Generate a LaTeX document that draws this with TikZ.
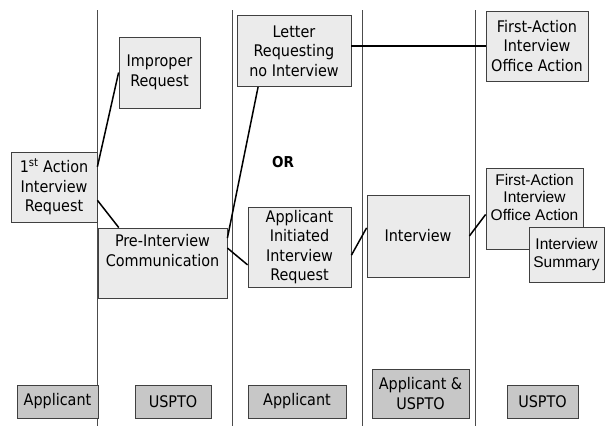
\documentclass[tikz,border=0pt]{standalone}
\usepackage{fontspec}
\setmainfont{DejaVu Sans Condensed}
\newfontfamily\arialfont{Liberation Sans}
\usepackage{tikz}

\begin{document}
\begin{tikzpicture}[x=1pt, y=-1pt,
  box/.style={draw=black!75, line width=0.8pt, fill=black!8, align=center, inner sep=1pt,
    font=\fontsize{16}{19.5}\selectfont},
  arialbox/.style={box, font=\arialfont\fontsize{15.5}{17.5}\selectfont},
  whobox/.style={box, fill=black!22, minimum height=33pt},
  link/.style={line width=1.5pt, black},
  lane/.style={line width=0.8pt, black!70}]
\useasboundingbox (0, 0) rectangle (605, 426);
\foreach \x in {97.5, 232, 362, 475}{\draw [lane] (\x, 10) -- (\x, 426);}
\node [box, minimum width=86pt, minimum height=70pt] (req) at (54, 187) {1\textsuperscript{st} Action\\Interview\\Request};
\node [box, minimum width=81pt, minimum height=71pt] (improper) at (159.5, 72.5) {Improper\\Request};
\node [box, minimum width=114pt, minimum height=71pt] (letter) at (294, 51) {Letter\\Requesting\\no Interview};
\node [box, minimum width=102pt, minimum height=70pt] (faioaA) at (537, 46) {First-Action\\Interview\\Office Action};
\node [box, minimum width=129pt, minimum height=70pt] (pre) at (162.5, 263) {Pre-Interview\\Communication\\\strut};
\node [box, minimum width=103pt, minimum height=80pt] (appinit) at (299.5, 247) {Applicant\\Initiated\\Interview\\Request};
\node [box, minimum width=102pt, minimum height=82pt] (interview) at (418, 236) {Interview};
\node [arialbox, minimum width=97pt, minimum height=81pt] (faioaB) at (534.5, 208.5) {First-Action\\Interview\\Office Action\\\strut};
\node [arialbox, minimum width=75pt, minimum height=55pt] (summary) at (566.5, 254.5) {Interview\\Summary};
\node [font=\bfseries\fontsize{15}{18}\selectfont] (or) at (283, 162) {OR};
% who does what
\node [whobox, minimum width=81pt] (who1) at (57.5, 401.5) {Applicant};
\node [whobox, minimum width=76pt] (who2) at (173, 401.5) {USPTO};
\node [whobox, minimum width=98pt] (who3) at (297, 401.5) {Applicant};
\node [whobox, minimum width=97pt, minimum height=49pt] (who4) at (420.5, 393.5) {Applicant \&\\USPTO};
\node [whobox, minimum width=71pt] (who5) at (542.5, 401.5) {USPTO};
\draw [link] (req.25) -- (improper.west);
\draw [link] (req.-17) -- (pre.141);
\draw [link] (pre.21) -- (letter.-135);
\draw [link] (pre.13) -- (appinit.199);
\draw [link] (appinit.-9) -- (interview.171);
\draw [link] (interview.east) -- (faioaB.187);
\draw [link] (faioaA.west) -- (faioaA.west -| letter.east);
\end{tikzpicture}
\end{document}
